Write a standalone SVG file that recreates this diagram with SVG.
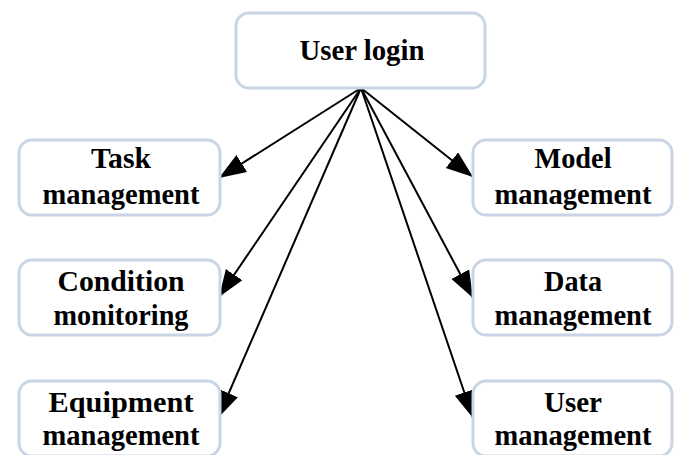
<svg xmlns="http://www.w3.org/2000/svg" width="676" height="455" viewBox="0 0 676 455">
  <defs>
    <marker id="arrow" markerUnits="userSpaceOnUse" markerWidth="30" markerHeight="22" refX="27" refY="10" orient="auto">
      <path d="M0,0 L27,10 L0,20 Z" fill="#000"/>
    </marker>
    <style>
      .box { fill: #fff; stroke: #c9d5e5; stroke-width: 3; }
      .lbl { font-family: "Liberation Serif", "Times New Roman", serif; font-weight: bold; font-size: 30px; fill: #000; text-anchor: middle; }
      .edge { stroke: #000; stroke-width: 2; fill: none; marker-end: url(#arrow); }
    </style>
  </defs>
  <rect width="676" height="455" fill="#fff"/>

  <g id="connectors">
    <line class="edge" x1="361" y1="88" x2="219" y2="178"/>
    <line class="edge" x1="361" y1="88" x2="219" y2="297"/>
    <line class="edge" x1="361" y1="88" x2="218" y2="418"/>
    <line class="edge" x1="361" y1="88" x2="473" y2="177"/>
    <line class="edge" x1="361" y1="88" x2="473" y2="298"/>
    <line class="edge" x1="361" y1="88" x2="473" y2="418"/>
  </g>

  <g id="user-login">
    <rect class="box" x="236" y="13" width="249" height="75" rx="13"/>
    <text class="lbl" x="362" y="60" textLength="125" lengthAdjust="spacingAndGlyphs">User login</text>
  </g>

  <g id="task-management">
    <rect class="box" x="19" y="140" width="201" height="75" rx="13"/>
    <text class="lbl" x="121" y="168" textLength="60" lengthAdjust="spacingAndGlyphs">Task</text>
    <text class="lbl" x="121" y="204" textLength="157" lengthAdjust="spacingAndGlyphs">management</text>
  </g>

  <g id="condition-monitoring">
    <rect class="box" x="19" y="260" width="201" height="75" rx="13"/>
    <text class="lbl" x="121" y="291" textLength="127" lengthAdjust="spacingAndGlyphs">Condition</text>
    <text class="lbl" x="121" y="325" textLength="135" lengthAdjust="spacingAndGlyphs">monitoring</text>
  </g>

  <g id="equipment-management">
    <rect class="box" x="19" y="381" width="201" height="75" rx="13"/>
    <text class="lbl" x="121" y="412" textLength="145" lengthAdjust="spacingAndGlyphs">Equipment</text>
    <text class="lbl" x="121" y="445" textLength="157" lengthAdjust="spacingAndGlyphs">management</text>
  </g>

  <g id="model-management">
    <rect class="box" x="473" y="140" width="199" height="75" rx="13"/>
    <text class="lbl" x="573" y="168" textLength="77" lengthAdjust="spacingAndGlyphs">Model</text>
    <text class="lbl" x="573" y="204" textLength="157" lengthAdjust="spacingAndGlyphs">management</text>
  </g>

  <g id="data-management">
    <rect class="box" x="473" y="260" width="199" height="75" rx="13"/>
    <text class="lbl" x="573" y="291" textLength="58" lengthAdjust="spacingAndGlyphs">Data</text>
    <text class="lbl" x="573" y="325" textLength="157" lengthAdjust="spacingAndGlyphs">management</text>
  </g>

  <g id="user-management">
    <rect class="box" x="473" y="381" width="199" height="75" rx="13"/>
    <text class="lbl" x="573" y="412" textLength="58" lengthAdjust="spacingAndGlyphs">User</text>
    <text class="lbl" x="573" y="445" textLength="157" lengthAdjust="spacingAndGlyphs">management</text>
  </g>
</svg>
